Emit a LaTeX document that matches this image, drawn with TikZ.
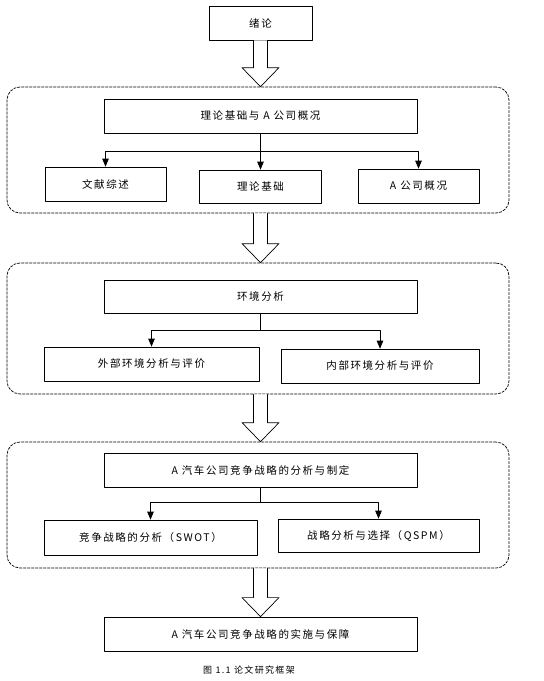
\documentclass[tikz,border=0pt]{standalone}
\usepackage{fontspec}
\setmainfont{Noto Sans CJK SC}[LetterSpace=15]
\usetikzlibrary{arrows,calc}

\tikzset{
  stepbox/.style={draw,line width=0.8pt,inner sep=0pt,font=\fontsize{10.5}{12}\selectfont},
  group/.style={draw,line width=0.7pt,dash pattern=on 2.5pt off 1.5pt,rounded corners=13pt,inner sep=0pt}
}
% hollow block arrow from node #1 down to node #2, on the axis of (intro)
\newcommand{\bigarrow}[2]{%
  \draw[line width=0.7pt,fill=white] ($(intro.south |- #1.south)+(-7,0)$) -- ($(intro.south |- #2.north)+(-7,-19)$)
    -- ++(-11.5,0) -- (intro.south |- #2.north) -- ++(18.5,-19) -- ++(-11.5,0)
    -- ($(intro.south |- #1.south)+(7,0)$);}

\begin{document}
\begin{tikzpicture}[line cap=round,line join=round,>=triangle 45,x=1pt,y=-1pt]
\useasboundingbox (0,0) rectangle (544,681);
% stage groups
\node[group,minimum width=502,minimum height=126] (g1) at (258,150) {};
\node[group,minimum width=502,minimum height=131] (g2) at (258,328.5) {};
\node[group,minimum width=502,minimum height=126] (g3) at (258,505) {};
% boxes
\node[stepbox,minimum width=103,minimum height=34] (intro) at (260.5,23) {绪论};
\node[stepbox,minimum width=313,minimum height=34] (base) at (260.5,116) {理论基础与 A 公司概况};
\node[stepbox,minimum width=121,minimum height=34] (lit) at (105.5,184) {文献综述};
\node[stepbox,minimum width=122,minimum height=33] (theory) at (260.5,186.5) {理论基础};
\node[stepbox,minimum width=121,minimum height=34] (company) at (418.5,186) {A 公司概况};
\node[stepbox,minimum width=313,minimum height=33] (env) at (260.5,296.5) {环境分析};
\node[stepbox,minimum width=215,minimum height=34] (ext) at (151.5,364) {外部环境分析与评价};
\node[stepbox,minimum width=198,minimum height=34] (int) at (380,366) {内部环境分析与评价};
\node[stepbox,minimum width=313,minimum height=34] (strat) at (260.5,470) {A 汽车公司竞争战略的分析与制定};
\node[stepbox,minimum width=213,minimum height=35] (swot) at (150.5,537.5) {竞争战略的分析（SWOT）};
\node[stepbox,minimum width=201,minimum height=33] (qspm) at (378.5,535.5) {战略分析与选择（QSPM）};
\node[stepbox,minimum width=313,minimum height=34] (impl) at (260.5,634) {A 汽车公司竞争战略的实施与保障};
\node[font=\fontsize{9}{11}\selectfont] (cap) at (249,670) {图 1.1 论文研究框架};
% branches
\coordinate (j1) at ($(base.south)+(0,18)$);
\coordinate (j2) at ($(env.south)+(0,17)$);
\coordinate (j3) at ($(strat.south)+(0,15)$);
\draw[line width=0.8pt] (base.south) -- (j1);
\draw[line width=0.8pt,->] (j1) -| (lit.north);
\draw[line width=0.8pt,->] (j1) -- (theory.north);
\draw[line width=0.8pt,->] (j1) -| (company.north);
\draw[line width=0.8pt] (env.south) -- (j2);
\draw[line width=0.8pt,->] (j2) -| (ext.north);
\draw[line width=0.8pt,->] (j2) -| (int.north);
\draw[line width=0.8pt] (strat.south) -- (j3);
\draw[line width=0.8pt,->] (j3) -| (swot.north);
\draw[line width=0.8pt,->] (j3) -| (qspm.north);
% stage arrows
\bigarrow{intro}{g1}
\bigarrow{g1}{g2}
\bigarrow{g2}{g3}
\bigarrow{g3}{impl}
\end{tikzpicture}
\end{document}
